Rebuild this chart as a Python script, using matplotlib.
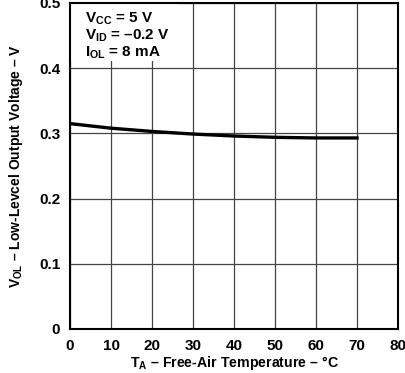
import numpy as np
import matplotlib.pyplot as plt
from matplotlib.patches import Rectangle

plt.rcParams['font.family'] = ['Liberation Sans', 'DejaVu Sans']
plt.rcParams['font.weight'] = 'bold'
plt.rcParams['axes.labelweight'] = 'bold'
plt.rcParams['mathtext.fontset'] = 'custom'
plt.rcParams['mathtext.rm'] = 'Liberation Sans:bold'
plt.rcParams['mathtext.default'] = 'rm'

# === Data ===
temp = [0, 10, 20, 30, 40, 50, 60, 70]
vol = [0.315, 0.308, 0.303, 0.299, 0.296, 0.294, 0.293, 0.293]
xticks = [0, 10, 20, 30, 40, 50, 60, 70, 80]
yticks = [0, 0.1, 0.2, 0.3, 0.4, 0.5]
ytick_labels = ['0', '0.1', '0.2', '0.3', '0.4', '0.5']

fig = plt.figure(figsize=(4.05, 3.73), dpi=100)
ax = fig.add_axes([70 / 405, 44 / 373, 328 / 405, 326 / 373])
ax.set_axisbelow(True)

ax.plot(temp, vol, color='black', lw=2.4, zorder=3)

ax.set_xlim(0, 80)
ax.set_ylim(0, 0.5)
ax.set_xticks(xticks)
ax.set_yticks(yticks)
ax.set_yticklabels(ytick_labels)
ax.tick_params(length=0, labelsize=11, pad=7)
ax.grid(color='#444444', lw=0.9)
for s in ax.spines.values():
    s.set_linewidth(1.5)

ax.set_xlabel(r'T$_\mathregular{A}$ – Free-Air Temperature – °C', fontsize=10.2, labelpad=1)
ax.set_ylabel(r'V$_\mathregular{OL}$ – Low-Levcel Output Voltage – V', fontsize=10, labelpad=10)

# white area behind the conditions text
ax.add_patch(Rectangle((0, 0.822), 0.33, 0.18, transform=ax.transAxes,
                       facecolor='white', edgecolor='none', zorder=1))
ax.text(0.045, 0.978,
        'V$_\\mathregular{CC}$ = 5 V\nV$_\\mathregular{ID}$ = –0.2 V\nI$_\\mathregular{OL}$ = 8 mA',
        transform=ax.transAxes, va='top', ha='left', fontsize=11, linespacing=1.05,
        zorder=4)

fig.savefig('out.png', dpi=100)
